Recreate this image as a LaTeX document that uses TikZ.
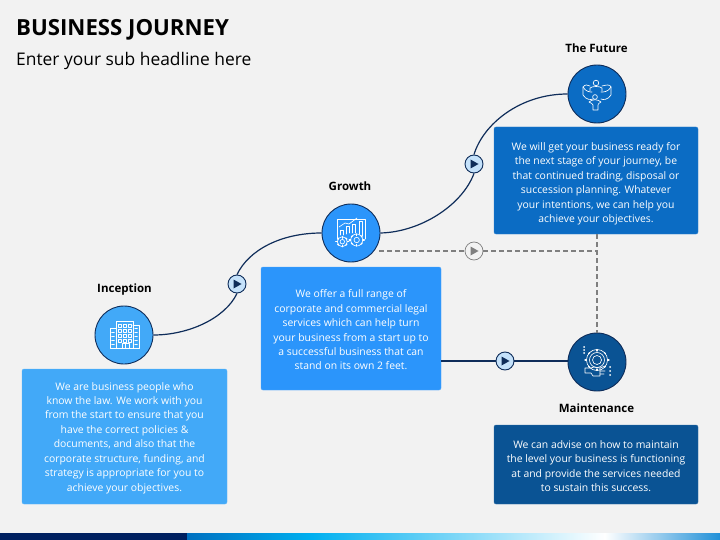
\documentclass[tikz,border=0pt]{standalone}
\usepackage{fontspec}
\setmainfont{Open Sans}
\definecolor{bgc}{HTML}{F2F2F2}
\definecolor{navy}{HTML}{0F2D5A}
\definecolor{c1}{HTML}{42A9F8}
\definecolor{c2}{HTML}{2B95FB}
\definecolor{c3}{HTML}{0B6CC4}
\definecolor{c4}{HTML}{0A5394}
\definecolor{gr}{HTML}{7F7F7F}
\definecolor{ringfill}{HTML}{C5E2FB}
\definecolor{b0}{HTML}{002060}
\definecolor{b1}{HTML}{0070C0}
\definecolor{b2}{HTML}{00B0F0}
\definecolor{b3}{HTML}{FFFFFF}
\definecolor{b4}{HTML}{2090D8}
\tikzset{
  textbox/.style={rounded corners=2pt,fill=#1,draw=#1!85!white,line width=0.4pt,text=white,align=center,font=\fontsize{10.4}{14.45}\selectfont,inner sep=0pt},
  hub/.style={circle,draw=navy,line width=0.9pt,minimum size=58pt,inner sep=0pt},
  stepname/.style={font=\fontsize{11.5}{14}\selectfont\bfseries,text=black,inner sep=0pt},
  playring/.style={circle,draw=navy,line width=0.9pt,fill=ringfill,minimum size=18pt,inner sep=0pt},
  greyring/.style={circle,draw=gr,line width=0.7pt,fill=bgc,minimum size=18pt,inner sep=0pt},
  link/.style={draw=navy,line width=1.2pt},
  dashlink/.style={draw=gr,line width=1.1pt,dash pattern=on 5pt off 3pt},
  icon/.style={draw=white,line width=0.65pt,line join=round,line cap=round},
}
\newcommand{\gearmark}[2]{%
  \draw[icon] (#1) circle (#2);
  \draw[icon] (#1) circle (#2*0.45);
  \foreach \a in {0,45,...,315}{\draw[icon,line width=1.2pt] (#1) ++(\a:#2) -- ++(\a:1.6pt);}
}
\newcommand{\playmark}[2]{\fill[#2] (#1) ++(-3.5,-4.5) -- ++(8,4.5) -- ++(-8,4.5) -- cycle;}
\begin{document}
\begin{tikzpicture}[x=1pt,y=-1pt]
\useasboundingbox (0,0) rectangle (720,540);
\fill[bgc] (0,0) rectangle (720,540);
% bottom band
\shade[left color=b1,right color=b2] (187,533) rectangle (312,540);
\shade[left color=b2,right color=b3] (311.5,533) rectangle (605,540);
\shade[left color=b3,right color=b4] (604.5,533) rectangle (720,540);
\fill[b0] (0,533) rectangle (187,540);
% titles
\node[anchor=base west,inner sep=0pt,font=\fontsize{22.2}{26}\selectfont\bfseries] (title) at (16,36) {BUSINESS JOURNEY};
\node[anchor=base west,inner sep=0pt,font=\fontsize{17.4}{21}\selectfont] (sub) at (16,65.5) {Enter your sub headline here};
% hubs and play rings
\node[hub,fill=c1] (inc) at (124,335) {};
\node[hub,fill=c2] (gro) at (351,233) {};
\node[hub,fill=c3] (fut) at (597,94) {};
\node[hub,fill=c4] (mai) at (597,362) {};
\node[playring] (p1) at (237,284) {};
\node[playring] (p2) at (474,164) {};
\node[playring] (p3) at (505,361) {};
\node[greyring] (p4) at (474,251) {};
\coordinate (dj) at (597,251);
\coordinate (dg) at (379,251);
% boxes
\node[textbox=c1,minimum width=205pt,minimum height=135pt] (bi) at (124.5,436.5) {\rule{0pt}{10.8pt}We are business people who\\know the law. We work with you\\from the start to ensure that you\\have the correct policies \&\\documents, and also that the\\corporate structure, funding, and\\strategy is appropriate for you to\\achieve your objectives.};
\node[textbox=c2,minimum width=180pt,minimum height=123pt] (bg) at (351,328.5) {\rule{0pt}{10.8pt}We offer a full range of\\corporate and commercial legal\\services which can help turn\\your business from a start up to\\a successful business that can\\stand on its own 2 feet.};
\node[textbox=c3,minimum width=204pt,minimum height=107pt] (bf) at (596,180.5) {\rule{0pt}{14.5pt}We will get your business ready for\\the next stage of your journey, be\\that continued trading, disposal or\\succession planning. Whatever\\your intentions, we can help you\\achieve your objectives.};
\node[textbox=c4,minimum width=204pt,minimum height=79pt] (bm) at (596,464.5) {\rule{0pt}{10.8pt}We can advise on how to maintain\\the level your business is functioning\\at and provide the services needed\\to sustain this success.};
% names
\node[stepname] (ni) at (124.5,289.5) {Inception};
\node[stepname] (ng) at (350,186.5) {Growth};
\node[stepname] (nf) at (596.5,48) {The Future};
\node[stepname] (nm) at (596.5,408.5) {Maintenance};
% connectors
\draw[link] (inc.east) .. controls +(35,0) and +(-12,25) .. (p1.south);
\draw[link] (p1.north) .. controls +(12,-25) and +(-40,0) .. (gro.west);
\draw[link] (gro.east) .. controls +(40,-1) and +(-12,32) .. (p2.south);
\draw[link] (p2.north) .. controls +(9,-30) and +(-48,0) .. (fut.west);
\draw[link] (bg.east |- p3) -- (p3.west);
\draw[link] (p3.east) -- (mai.west |- p3);
\draw[dashlink] (dg) -- (p4.west);
\draw[dashlink] (p4.east) -- (dj);
\draw[dashlink] (bf.south -| dj) -- (mai.north);
% play triangles
\playmark{p1.center}{navy}
\playmark{p2.center}{navy}
\playmark{p3.center}{navy}
\playmark{p4.center}{gr}
% icon: buildings
\begin{scope}[shift={(inc.center)}]
\draw[icon] (-8,13) -- (-8,-14) -- (9,-14) -- (9,13);
\draw[icon] (-8,-7) -- (-14,-7) -- (-14,13) -- (15,13) -- (15,-10) -- (9,-10);
\foreach \x in {-5.5,-0.5,4.5}\foreach \y in {-11,-6,-1,4}{\draw[icon,line width=0.45pt] (\x,\y) rectangle +(2.8,2.8);}
\foreach \y in {-7,-3,1,5,9}{\draw[icon,line width=0.45pt] (10.7,\y) -- +(2.8,0); \draw[icon,line width=0.45pt] (-12.5,\y) -- +(3,0);}
\draw[icon] (-2,13) -- (-2,8.5) -- (5,8.5) -- (5,13) (1.5,8.5) -- (1.5,13);
\end{scope}
% icon: chart and gears
\begin{scope}[shift={(gro.center)}]
\draw[icon] (-14,6) -- (-14,-14) -- (14,-14) -- (14,6);
\draw[icon] (-11,2) -- (-11,-3) -- (-8,-3) -- (-8,2) (-5,1) -- (-5,-7) -- (-2,-7) -- (-2,0) (1,0) -- (1,-9) -- (4,-9) -- (4,0) (8,1) -- (8,-12) -- (11,-12) -- (11,3);
\draw[icon] (-12,-6) -- (-6,-10) -- (-2,-9) -- (6,-15);
\gearmark{-8.7,8.7}{5}
\gearmark{5.7,7}{6}
\end{scope}
% icon: people in a ring
\begin{scope}[shift={(fut.center)}]
\draw[icon] (-1,-11) circle (2.8);
\draw[icon] (-7,-3) -- (-7,-6) .. controls (-5,-8) and (3,-8) .. (5,-6) -- (5,-3);
\draw[icon] (-14,-7) .. controls (-12,-10) and (-9,-9) .. (-7,-8) (14,-7) .. controls (13,-10) and (9,-9) .. (5,-8);
\draw[icon] (-14,-7) -- (-14,1) .. controls (-11,6) and (-6,6) .. (-4,5) (14,-7) -- (14,1) .. controls (11,6) and (6,6) .. (4,5);
\draw[icon] (-14,-7) .. controls (-11,-2) and (-7,-2) .. (-5,-2) (14,-7) .. controls (11,-2) and (7,-2) .. (4,-2);
\draw[icon] (-2,3) circle (2.4);
\draw[icon] (-8,8) .. controls (-5,5) and (1,5) .. (4,8) .. controls (2,9) and (1,10) .. (1,11) -- (1,16) -- (-4,16) -- (-4,11) .. controls (-4,10) and (-6,9) .. (-8,8);
\end{scope}
% icon: gear with hand
\begin{scope}[shift={(mai.center)}]
\draw[icon] (0,-2) circle (10.5);
\foreach \a in {0,45,...,315}{\draw[icon,line width=1.2pt] (0,-2) ++(\a:10.5) -- ++(\a:1.5pt);}
\draw[icon] (0,-2) circle (7.5);
\draw[icon] (0,-2) circle (4.5);
\draw[icon] (-12,6) -- (-6,6) -- (-3,5) -- (3,6) -- (3,14) -- (-4,14) -- (-6,11) -- (-12,11) -- cycle;
\draw[icon] (3,6) -- (8,4) (3,9) -- (8,9) (3,12) -- (7,12);
\foreach \y in {-15,-12,-9}{\fill[white] (-13,\y) circle (1);}
\foreach \y in {5,9,13}{\fill[white] (13,\y) circle (1);}
\end{scope}
\end{tikzpicture}
\end{document}
